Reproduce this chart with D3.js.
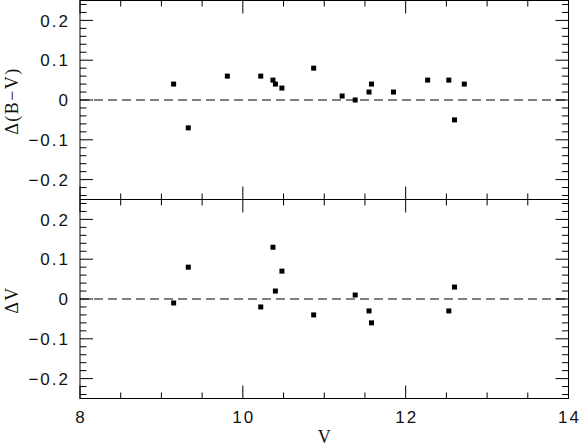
<!DOCTYPE html>
<html><head><meta charset="utf-8">
<script src="https://cdn.jsdelivr.net/npm/d3@7"></script>
<style>body{margin:0;background:#fff}svg{display:block}</style>
</head><body>
<svg id="c" width="580" height="446"></svg>
<script>
const vMag = [9.15, 9.33, 9.81, 10.22, 10.37, 10.40, 10.48, 10.87, 11.22, 11.38, 11.55, 11.58, 11.85, 12.27, 12.53, 12.60, 12.72];
const dBV  = [0.04, -0.07, 0.06, 0.06, 0.05, 0.04, 0.03, 0.08, 0.01, 0.00, 0.02, 0.04, 0.02, 0.05, 0.05, -0.05, 0.04];
const vMagB = [9.15, 9.33, 10.22, 10.37, 10.40, 10.48, 10.87, 11.38, 11.55, 11.58, 12.53, 12.60];
const dV    = [-0.01, 0.08, -0.02, 0.13, 0.02, 0.07, -0.04, 0.01, -0.03, -0.06, -0.03, 0.03];
const xTicks = [8, 10, 12, 14];
const yTicks = [-0.2, -0.1, 0, 0.1, 0.2];

const svg = d3.select("#c");
const L = 80, R = 568.5;
const x = d3.scaleLinear().domain([8, 14]).range([L, R]);
const panels = [
  {top: 0.5, bot: 199.5, xs: vMag, ys: dBV, label: "Δ(B−V)"},
  {top: 199.5, bot: 398.5, xs: vMagB, ys: dV, label: "ΔV"}
];
const fmt = d => d === 0 ? "0" : d3.format(".1f")(d).replace("-", "−");
const sans = "Liberation Sans, Arial, sans-serif";
const serif = "Liberation Serif, Times New Roman, serif";

panels.forEach((p, i) => {
  const y = d3.scaleLinear().domain([-0.25, 0.25]).range([p.bot, p.top]);
  const g = svg.append("g");
  g.append("rect").attr("x", L).attr("y", p.top).attr("width", R - L).attr("height", p.bot - p.top)
    .attr("fill", "none").attr("stroke", "#000").attr("stroke-width", 1);
  const xMinor = d3.range(8, 14.01, 0.5);
  xMinor.forEach(v => {
    const major = Math.abs(v / 2 - Math.round(v / 2)) < 1e-6;
    const len = major ? 13 : 6;
    g.append("line").attr("x1", x(v)).attr("x2", x(v)).attr("y1", p.bot).attr("y2", p.bot - len).attr("stroke", "#000");
    g.append("line").attr("x1", x(v)).attr("x2", x(v)).attr("y1", p.top).attr("y2", p.top + len).attr("stroke", "#000");
  });
  const yMinor = d3.range(-0.24, 0.2401, 0.02);
  yMinor.forEach(v => {
    const major = Math.abs(v * 10 - Math.round(v * 10)) < 1e-6;
    const len = major ? 13 : 6.5;
    g.append("line").attr("y1", y(v)).attr("y2", y(v)).attr("x1", L).attr("x2", L + len).attr("stroke", "#000");
    g.append("line").attr("y1", y(v)).attr("y2", y(v)).attr("x1", R).attr("x2", R - len).attr("stroke", "#000");
  });
  yTicks.forEach(v => {
    g.append("text").attr("x", 70).attr("y", y(v)).attr("dy", "0.36em").attr("text-anchor", "end")
      .attr("font-family", sans).attr("font-size", 17).attr("letter-spacing", 2).attr("fill", "#111")
      .text(fmt(v));
  });
  g.append("line").attr("x1", L).attr("x2", R).attr("y1", y(0)).attr("y2", y(0))
    .attr("stroke", "#000").attr("stroke-dasharray", "9,5");
  g.selectAll("rect.pt").data(p.xs.map((v, k) => [v, p.ys[k]])).enter().append("rect")
    .attr("x", d => x(d[0]) - 2.5).attr("y", d => y(d[1]) - 2.5).attr("width", 5).attr("height", 5).attr("fill", "#000");
  g.append("text").attr("transform", `translate(18,${(p.top + p.bot) / 2 + 1}) rotate(-90)`)
    .attr("text-anchor", "middle").attr("font-family", serif).attr("letter-spacing", 1.5)
    .attr("font-size", 18).attr("fill", "#111").text(p.label);
});

xTicks.forEach(v => {
  svg.append("text").attr("x", x(v) + 1).attr("y", 423).attr("text-anchor", "middle")
    .attr("font-family", sans).attr("font-size", 17).attr("letter-spacing", 2).attr("fill", "#111").text(v);
});
svg.append("text").attr("x", (L + R) / 2).attr("y", 443).attr("text-anchor", "middle")
  .attr("font-family", serif).attr("font-size", 18).attr("fill", "#111").text("V");
</script>
</body></html>
